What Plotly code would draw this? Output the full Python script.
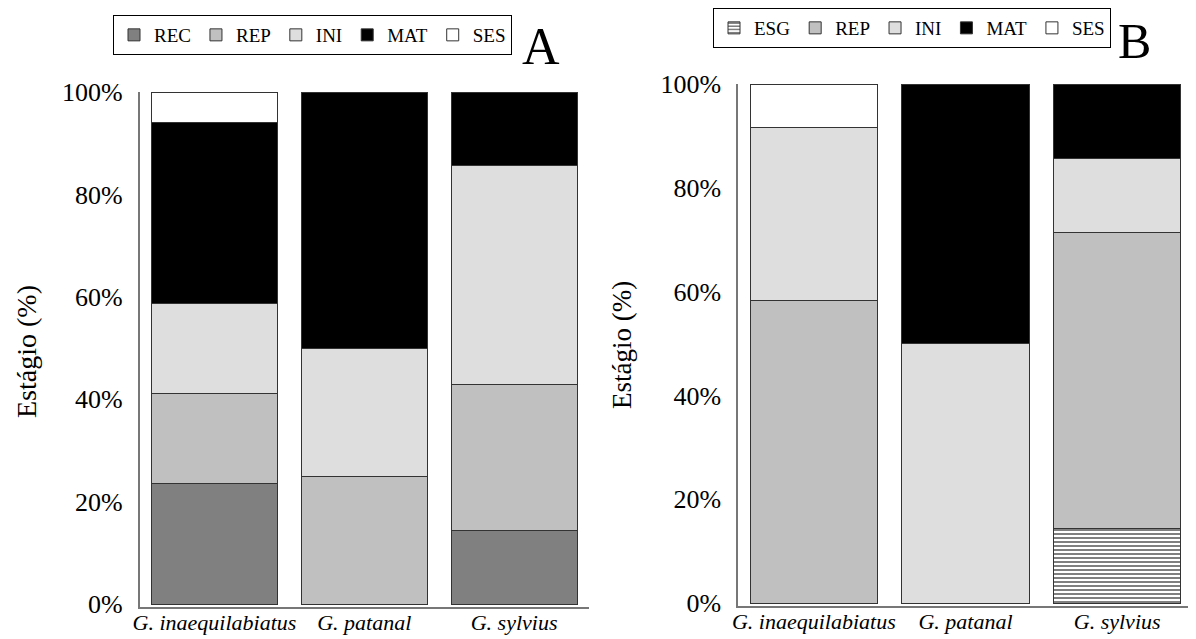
import plotly.graph_objects as go

species = ["G. inaequilabiatus", "G. patanal", "G. sylvius"]

# Panel A (percent)
a_rec = [23.5, 0.0, 14.3]
a_rep = [17.6, 25.0, 28.6]
a_ini = [17.6, 25.0, 42.8]
a_mat = [35.3, 50.0, 14.3]
a_ses = [6.0, 0.0, 0.0]

# Panel B (percent)
b_esg = [0.0, 0.0, 14.3]
b_rep = [58.3, 0.0, 57.1]
b_ini = [33.4, 50.0, 14.3]
b_mat = [0.0, 50.0, 14.3]
b_ses = [8.3, 0.0, 0.0]

ytick_vals = [0, 20, 40, 60, 80, 100]
ytick_text = ["0%", "20%", "40%", "60%", "80%", "100%"]

FONT = "Liberation Serif"
OUT = "#333333"

fig = go.Figure()

def add(name, vals, color, xa, ya, legend, pattern=None):
    marker = dict(color=color, line=dict(color=OUT, width=1))
    if pattern:
        marker["pattern"] = pattern
    fig.add_trace(go.Bar(name=name, x=species, y=vals, marker=marker,
                         xaxis=xa, yaxis=ya, legend=legend))

add("REC", a_rec, "#808080", "x", "y", "legend")
add("REP", a_rep, "#c0c0c0", "x", "y", "legend")
add("INI", a_ini, "#dedede", "x", "y", "legend")
add("MAT", a_mat, "#000000", "x", "y", "legend")
add("SES", a_ses, "#ffffff", "x", "y", "legend")

add("ESG", b_esg, "#ffffff", "x2", "y2", "legend2",
    pattern=dict(shape="-", fgcolor="#000000", bgcolor="#ffffff", size=4, solidity=0.5))
add("REP", b_rep, "#c0c0c0", "x2", "y2", "legend2")
add("INI", b_ini, "#dedede", "x2", "y2", "legend2")
add("MAT", b_mat, "#000000", "x2", "y2", "legend2")
add("SES", b_ses, "#ffffff", "x2", "y2", "legend2")

W, H = 1196, 639
OFF = 8  # page body margin

def px_x(p):
    return (p - OFF) / W

def px_y(p):
    return (H - (p - OFF)) / H

xcommon = dict(showline=True, linecolor="#777777", linewidth=1.5, showgrid=False,
               ticks="", automargin=False, ticklabelstandoff=-5,
               tickfont=dict(family=FONT, size=22, color="black", style="italic"),
               range=[-0.5, 2.5], fixedrange=True)
ycommon = dict(showline=True, linecolor="#777777", linewidth=1.5, showgrid=False,
               tickvals=ytick_vals, ticktext=ytick_text, zeroline=False, automargin=False,
               ticks="outside", ticklen=10, tickcolor="rgba(0,0,0,0)",
               tickfont=dict(family=FONT, size=26, color="black"))

legcommon = dict(orientation="h", xanchor="left", yanchor="top",
                 bordercolor="black", borderwidth=1, font=dict(family=FONT, size=19),
                 traceorder="normal", itemwidth=30, bgcolor="white",
                 tracegroupgap=0)

fig.update_layout(
    width=W, height=H,
    barmode="stack", bargap=0.16,
    plot_bgcolor="white", paper_bgcolor="white",
    margin=dict(l=0, r=0, t=0, b=0, autoexpand=False),
    font=dict(family=FONT, color="black"),
    xaxis=dict(domain=[px_x(139.5), px_x(589)], anchor="y", **xcommon),
    yaxis=dict(domain=[px_y(606.6), px_y(92)], anchor="x", range=[-0.5, 100], **ycommon),
    xaxis2=dict(domain=[px_x(738), px_x(1193)], anchor="y2", **xcommon),
    yaxis2=dict(domain=[px_y(605.9), px_y(84)], anchor="x2", range=[-0.55, 100], **ycommon),
    legend=dict(x=px_x(113), y=px_y(15), **legcommon),
    legend2=dict(x=px_x(713), y=1.0, **legcommon),
    annotations=[
        dict(text="A", x=px_x(541), y=px_y(47), xref="paper", yref="paper",
             xanchor="center", yanchor="middle",
             showarrow=False, font=dict(family=FONT, size=52)),
        dict(text="B", x=px_x(1134), y=px_y(41), xref="paper", yref="paper",
             xanchor="center", yanchor="middle",
             showarrow=False, font=dict(family=FONT, size=50)),
        dict(text="Estágio (%)", x=px_x(26), y=px_y(352), xref="paper", yref="paper",
             xanchor="center", yanchor="middle",
             showarrow=False, textangle=-90, font=dict(family=FONT, size=28)),
        dict(text="Estágio (%)", x=px_x(622), y=px_y(345), xref="paper", yref="paper",
             xanchor="center", yanchor="middle",
             showarrow=False, textangle=-90, font=dict(family=FONT, size=27)),
    ],
    showlegend=True,
)

fig.write_html("out.html")
